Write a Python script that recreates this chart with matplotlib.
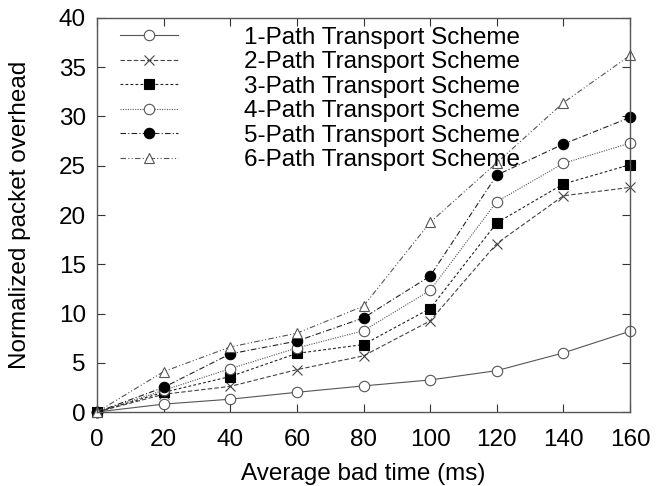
import matplotlib
matplotlib.use('Agg')
import matplotlib.pyplot as plt

plt.rcParams['font.family'] = ['Liberation Sans', 'DejaVu Sans']

bad_time = [0, 20, 40, 60, 80, 100, 120, 140, 160]
path1 = [0, 0.8, 1.3, 2.0, 2.65, 3.25, 4.2, 6.0, 8.2]
path2 = [0, 1.8, 2.6, 4.3, 5.7, 9.25, 17.1, 21.95, 22.8]
path3 = [0, 2.0, 3.6, 5.95, 6.85, 10.5, 19.2, 23.15, 25.1]
path4 = [0, 2.2, 4.4, 6.5, 8.25, 12.35, 21.35, 25.25, 27.3]
path5 = [0, 2.5, 5.9, 7.2, 9.55, 13.8, 24.05, 27.2, 29.9]
path6 = [0, 4.1, 6.6, 8.0, 10.75, 19.25, 25.3, 31.4, 36.2]
labels = ['1-Path Transport Scheme', '2-Path Transport Scheme', '3-Path Transport Scheme',
          '4-Path Transport Scheme', '5-Path Transport Scheme', '6-Path Transport Scheme']

def main():
    fig = plt.figure(figsize=(6.56, 4.86), dpi=100)
    ax = fig.add_axes([97 / 656, 74 / 486, 533 / 656, 394 / 486])
    styles = [
        dict(ls='-', marker='o', mfc='white', color='#555555', ms=7.5),
        dict(ls=(0, (4, 2)), marker='x', mfc='none', color='#444444', ms=7.5),
        dict(ls=(0, (2.5, 2)), marker='s', mfc='black', color='#222222', ms=6.5),
        dict(ls=(0, (1, 1.2)), marker='o', mfc='white', color='#555555', ms=7.5),
        dict(ls=(0, (5, 2, 1, 2)), marker='o', mfc='black', color='#222222', ms=7.5),
        dict(ls=(0, (5, 2, 1, 2, 1, 2)), marker='^', mfc='white', color='#555555', ms=7),
    ]
    series = [path1, path2, path3, path4, path5, path6]
    for vals, lab, st in zip(series, labels, styles):
        ax.plot(bad_time, vals, linestyle=st['ls'], marker=st['marker'], color=st['color'],
                mfc=st['mfc'], mec=st['color'] if st['mfc'] != 'black' else 'black',
                ms=st['ms'], lw=0.8, mew=0.8, label=lab, clip_on=False)
    ax.set_xlim(0, 160)
    ax.set_ylim(0, 40)
    ax.set_xticks(bad_time)
    ax.set_yticks(range(0, 41, 5))
    ax.tick_params(direction='in', top=True, right=True, length=6, width=0.8,
                   labelsize=17.5, colors='#333333', labelcolor='black')
    ax.tick_params(axis='x', pad=12)
    ax.tick_params(axis='y', pad=8)
    for sp in ax.spines.values():
        sp.set_color('#555555')
        sp.set_linewidth(1.0)
    ax.set_xlabel('Average bad time (ms)', fontsize=17.5, labelpad=9)
    ax.set_ylabel('Normalized packet overhead', fontsize=17.5, labelpad=20)
    leg = ax.legend(loc='upper left', bbox_to_anchor=(0.034, 0.99), fontsize=17.5,
                    handlelength=2.4, handletextpad=2.7, labelspacing=0.1,
                    borderpad=0.2, fancybox=False, framealpha=0, edgecolor='#666666',
                    borderaxespad=0)
    leg.get_frame().set_linestyle(':')
    leg.get_frame().set_linewidth(1.0)
    fig.savefig('out.png', dpi=100)
    plt.close(fig)

if __name__ == '__main__':
    main()
